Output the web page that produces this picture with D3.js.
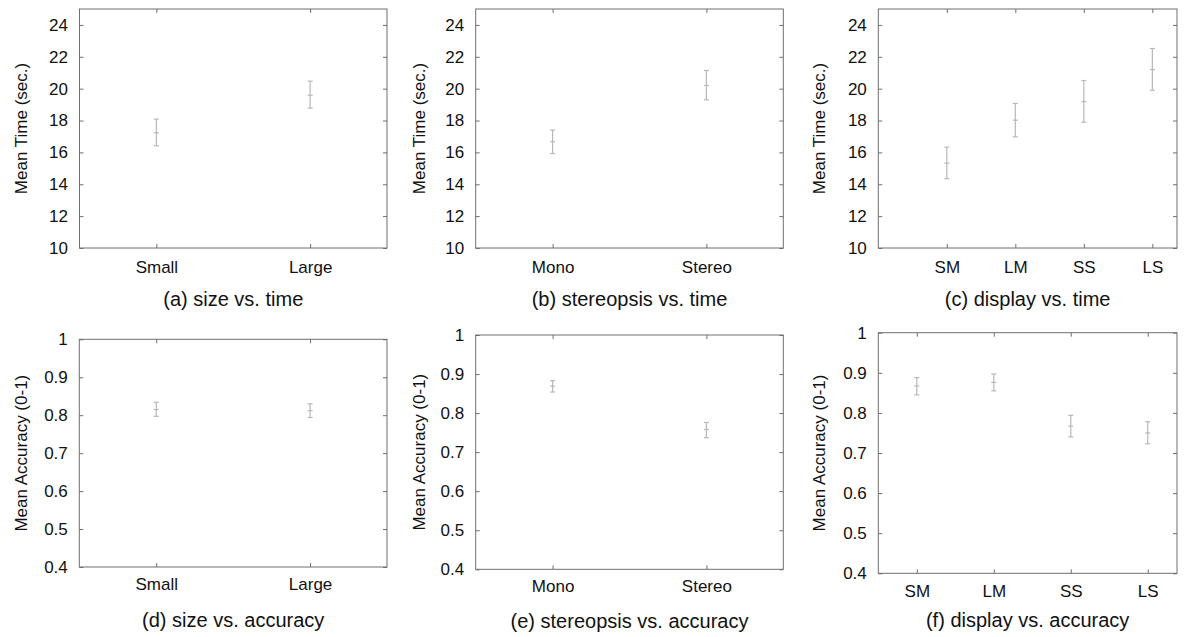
<!DOCTYPE html>
<html><head><meta charset="utf-8">
<script src="https://cdn.jsdelivr.net/npm/d3@7"></script>
<style>
body{margin:0;background:#fff;}
svg{display:block;font-family:"Liberation Sans",Arial,Helvetica,sans-serif;}
</style></head>
<body><svg id="c" width="1191" height="637"></svg>
<script>
// ---- data ----
const sizeCats = ["Small", "Large"];
const stereoCats = ["Mono", "Stereo"];
const displayCats = ["SM", "LM", "SS", "LS"];

const sizeTimeMean = [17.23, 19.59];
const sizeTimeLow  = [16.42, 18.78];
const sizeTimeHigh = [18.09, 20.47];

const stereoTimeMean = [16.67, 20.20];
const stereoTimeLow  = [15.93, 19.30];
const stereoTimeHigh = [17.40, 21.14];

const displayTimeMean = [15.33, 18.02, 19.19, 21.20];
const displayTimeLow  = [14.35, 16.98, 17.90, 19.90];
const displayTimeHigh = [16.33, 19.07, 20.51, 22.52];

const sizeAccMean = [0.815, 0.812];
const sizeAccLow  = [0.797, 0.794];
const sizeAccHigh = [0.834, 0.830];

const stereoAccMean = [0.869, 0.758];
const stereoAccLow  = [0.854, 0.737];
const stereoAccHigh = [0.883, 0.776];

const displayAccMean = [0.867, 0.876, 0.767, 0.750];
const displayAccLow  = [0.845, 0.855, 0.740, 0.723];
const displayAccHigh = [0.888, 0.897, 0.794, 0.778];

const timeTicks = [10, 12, 14, 16, 18, 20, 22, 24];
const accTicks = [0.4, 0.5, 0.6, 0.7, 0.8, 0.9, 1];

const timeLabel = "Mean Time (sec.)";
const accLabel = "Mean Accuracy (0-1)";

const captions = ["(a) size vs. time", "(b) stereopsis vs. time", "(c) display vs. time",
                  "(d) size vs. accuracy", "(e) stereopsis vs. accuracy", "(f) display vs. accuracy"];

// ---- layout ----
const panels = [
  {cats: sizeCats, mean: sizeTimeMean, low: sizeTimeLow, high: sizeTimeHigh, yd: [10, 25], ticks: timeTicks, ylab: timeLabel, cap: captions[0],
   x0: 79.5, x1: 387, y0: 9, y1: 248, xd: [0.5, 2.5], labX: 21, capY: 306, xPad: 9},
  {cats: stereoCats, mean: stereoTimeMean, low: stereoTimeLow, high: stereoTimeHigh, yd: [10, 25], ticks: timeTicks, ylab: timeLabel, cap: captions[1],
   x0: 475.7, x1: 783.3, y0: 9, y1: 248, xd: [0.5, 2.5], labX: 419, capY: 306, xPad: 9},
  {cats: displayCats, mean: displayTimeMean, low: displayTimeLow, high: displayTimeHigh, yd: [10, 25], ticks: timeTicks, ylab: timeLabel, cap: captions[2],
   x0: 878.3, x1: 1177, y0: 9, y1: 248, xd: [0, 4.36], labX: 819, capY: 306, xPad: 9},
  {cats: sizeCats, mean: sizeAccMean, low: sizeAccLow, high: sizeAccHigh, yd: [0.4, 1], ticks: accTicks, ylab: accLabel, cap: captions[3],
   x0: 79.3, x1: 387, y0: 339.3, y1: 567, xd: [0.5, 2.5], labX: 21, capY: 627, xPad: 7},
  {cats: stereoCats, mean: stereoAccMean, low: stereoAccLow, high: stereoAccHigh, yd: [0.4, 1], ticks: accTicks, ylab: accLabel, cap: captions[4],
   x0: 475.7, x1: 783.3, y0: 335, y1: 569.3, xd: [0.5, 2.5], labX: 419, capY: 628, xPad: 7},
  {cats: displayCats, mean: displayAccMean, low: displayAccLow, high: displayAccHigh, yd: [0.4, 1], ticks: accTicks, ylab: accLabel, cap: captions[5],
   x0: 878.3, x1: 1177, y0: 332.7, y1: 573.3, xd: [0.5, 4.38], labX: 819, capY: 627, xPad: 8},
];

const svg = d3.select("#c");
const frameColor = "#6f6f6f";
const textColor = "#111";
const barColor = "#b8b8b8";
const fmtTick = d => (d === 1 ? "1" : (Number.isInteger(d) ? String(d) : d.toFixed(1)));

panels.forEach(p => {
  const g = svg.append("g");
  const x = d3.scaleLinear().domain(p.xd).range([p.x0, p.x1]);
  const y = d3.scaleLinear().domain(p.yd).range([p.y1, p.y0]);
  const xPos = p.cats.map((c, i) => i + 1);

  // frame
  g.append("rect").attr("x", p.x0).attr("y", p.y0).attr("width", p.x1 - p.x0).attr("height", p.y1 - p.y0)
    .attr("fill", "none").attr("stroke", frameColor).attr("stroke-width", 1);

  // left axis (labels + inward ticks)
  const left = g.append("g").attr("transform", `translate(${p.x0},0)`)
    .call(d3.axisLeft(y).tickValues(p.ticks).tickSize(-4).tickPadding(11.5).tickFormat(fmtTick));
  // right mirror
  const right = g.append("g").attr("transform", `translate(${p.x1},0)`)
    .call(d3.axisRight(y).tickValues(p.ticks).tickSize(-4).tickFormat(""));
  // bottom axis
  const bottom = g.append("g").attr("transform", `translate(0,${p.y1})`)
    .call(d3.axisBottom(x).tickValues(xPos).tickSize(-4).tickPadding(p.xPad + 4).tickFormat((d, i) => p.cats[i]));
  // top mirror
  const top = g.append("g").attr("transform", `translate(0,${p.y0})`)
    .call(d3.axisTop(x).tickValues(xPos).tickSize(-4).tickFormat(""));

  [left, right, bottom, top].forEach(a => {
    a.select(".domain").remove();
    a.selectAll(".tick line").attr("stroke", frameColor);
    a.selectAll(".tick text").attr("fill", textColor).style("font-size", "17px")
      .style("font-family", '"Liberation Sans",Arial,Helvetica,sans-serif');
  });

  // error bars
  const eb = g.append("g").attr("stroke", barColor).attr("stroke-width", 1.2).attr("fill", "none");
  p.mean.forEach((m, i) => {
    const cx = x(xPos[i]);
    eb.append("line").attr("x1", cx).attr("x2", cx).attr("y1", y(p.low[i])).attr("y2", y(p.high[i]));
    [p.low[i], p.high[i], m].forEach(v => {
      eb.append("line").attr("x1", cx - 2.5).attr("x2", cx + 2.5).attr("y1", y(v)).attr("y2", y(v));
    });
  });

  // y label
  const cy = (p.y0 + p.y1) / 2;
  g.append("text").attr("transform", `translate(${p.labX},${cy}) rotate(-90)`)
    .attr("text-anchor", "middle").attr("dy", "0.35em")
    .attr("fill", textColor).style("font-size", "17px").text(p.ylab);

  // caption
  g.append("text").attr("x", (p.x0 + p.x1) / 2).attr("y", p.capY)
    .attr("text-anchor", "middle").attr("fill", textColor).style("font-size", "20px").text(p.cap);
});
</script></body></html>
